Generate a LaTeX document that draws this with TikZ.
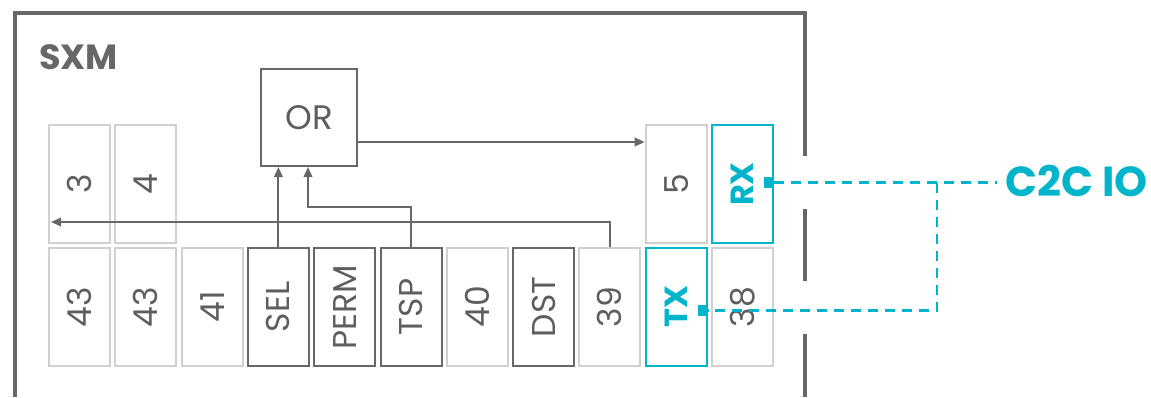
\documentclass[tikz,border=0pt]{standalone}
\usepackage{fontspec}
\usepackage{graphicx}
\setmainfont{Poppins}
\usetikzlibrary{arrows.meta,calc}
\definecolor{dk}{HTML}{676767}
\definecolor{lt}{HTML}{D0D0D0}
\definecolor{tg}{HTML}{5E5E5E}
\definecolor{cy}{HTML}{00B4CC}
\begin{document}
\begin{tikzpicture}[x=1pt,y=-1pt,
  box/.style={rectangle,minimum width=61pt,minimum height=118pt,inner sep=0pt,line width=2pt},
  lbox/.style={box,draw=lt,text=tg,font=\fontsize{33}{33}\selectfont},
  dbox/.style={box,draw=dk,text=tg,font=\fontsize{33}{33}\selectfont},
  cbox/.style={box,draw=cy,text=cy,font=\fontsize{32}{32}\selectfont\bfseries},
  conn/.style={draw=dk,line width=2pt,-{Triangle[length=10pt,width=8.5pt]}},
  frame/.style={draw=dk,line width=4pt},
  cdash/.style={draw=cy,line width=2.5pt,dash pattern=on 10pt off 7pt},
  port/.style={rectangle,fill=cy,minimum width=10pt,minimum height=11pt,inner sep=0pt}
]
\useasboundingbox (0,0) rectangle (1151,397);
% frame
\draw[frame] (15,397) -- (15,13) -- (805,13) -- (805,156);
\draw[frame] (805,209) -- (805,281);
\draw[frame] (805,334) -- (805,397);
\node[anchor=west,text=dk,font=\fontsize{35}{35}\selectfont\bfseries,inner sep=0pt] (sxm) at (39,57) {SXM};
% OR
\node[rectangle,draw=dk,line width=2pt,minimum width=96pt,minimum height=97pt,inner sep=0pt,text=tg,font=\fontsize{34}{34}\selectfont] (OR) at (309,117.5) {OR};
% top row
\node[lbox] (t0) at (79.5,184) {\rotatebox{90}{3}};
\node[lbox] (t1) at (145.8,184) {\rotatebox{90}{4}};
\node[lbox] (t9) at (676.2,184) {\rotatebox{90}{5}};
\node[cbox] (rx) at (742.5,184) {\rotatebox{90}{RX}};
% bottom row
\node[lbox] (b0) at (79.5,307) {\rotatebox{90}{43}};
\node[lbox] (b1) at (145.8,307) {\rotatebox{90}{43}};
\node[lbox] (b2) at (212.1,307) {\rotatebox{90}{41}};
\node[dbox] (b3) at (278.4,307) {\rotatebox{90}{SEL}};
\node[dbox] (b4) at (344.7,307) {\rotatebox{90}{PERM}};
\node[dbox] (b5) at (411.0,307) {\rotatebox{90}{TSP}};
\node[lbox] (b6) at (477.3,307) {\rotatebox{90}{40}};
\node[dbox] (b7) at (543.6,307) {\rotatebox{90}{DST}};
\node[lbox] (b8) at (609.9,307) {\rotatebox{90}{39}};
\node[cbox] (txb) at (676.2,307) {\rotatebox{90}{TX}};
\node[lbox] (b10) at (742.5,307) {\rotatebox{90}{38}};
% connectors
\coordinate (orout) at ([yshift=-24.5pt]OR.east);
\draw[conn] (orout) -- (orout -| t9.west);
\coordinate (ltip) at ([xshift=3pt]t0.west);
\draw[conn] (b8.north) -- (b8.north |- 0,222) -- (ltip |- 0,222);
\draw[conn] (b3.north) -- (b3.north |- OR.south);
\coordinate (tspin) at ([xshift=48pt]OR.south west);
\draw[conn] (b5.north) -- (b5.north |- 0,207) -| (tspin);
% C2C
\node[anchor=west,text=cy,font=\fontsize{42}{42}\selectfont\bfseries,inner sep=0pt] (c2c) at (1005,181) {C2C IO};
\node[port] (rxp) at ([xshift=-5pt,yshift=1.5pt]rx.east) {};
\node[port] (txp) at ([xshift=-5pt,yshift=-3.5pt]txb.east) {};
\coordinate (j) at (937,182.5);
\draw[cdash] (rxp.east) -- ([xshift=-8pt]c2c.west |- rxp);
\draw[cdash] (j) |- (txp.east);
\end{tikzpicture}
\end{document}
